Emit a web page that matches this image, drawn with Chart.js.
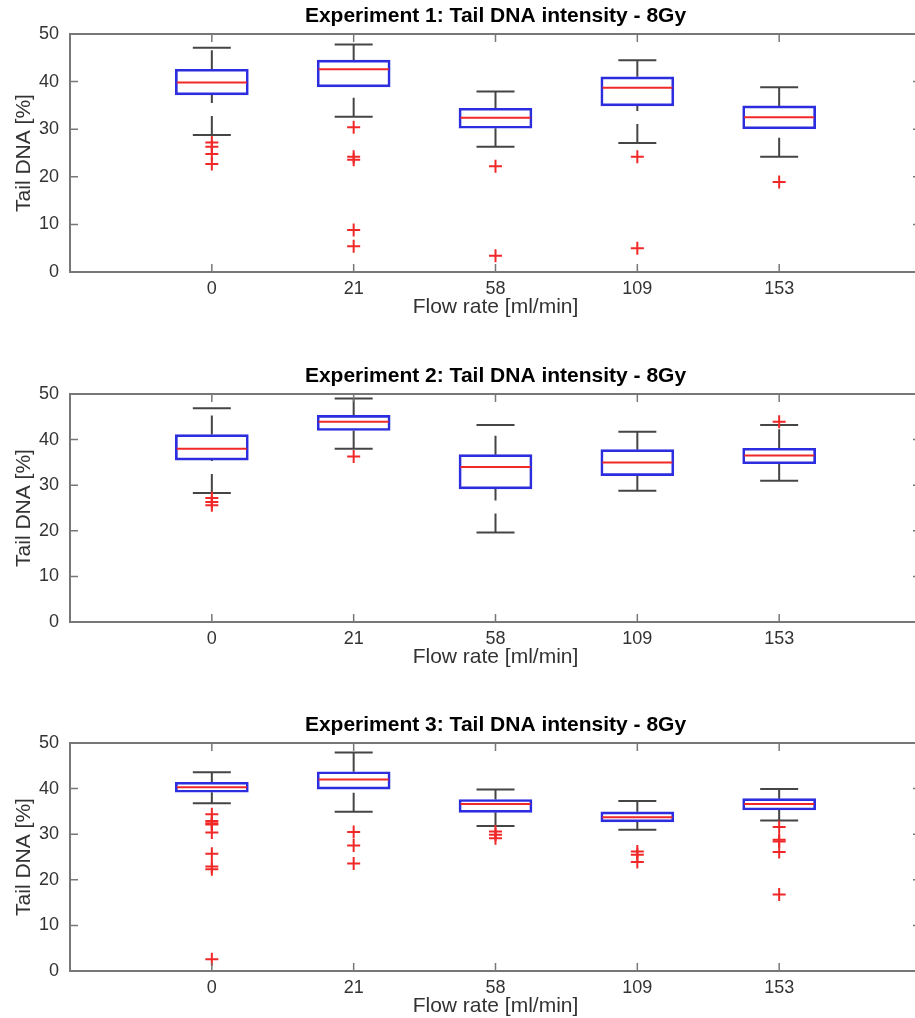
<!DOCTYPE html>
<html>
<head>
<meta charset="utf-8">
<title>Tail DNA intensity - 8Gy</title>
<script src="https://cdn.jsdelivr.net/npm/chart.js@4.4.1/dist/chart.umd.min.js"></script>
<style>
  html, body { margin: 0; padding: 0; background: #fff; overflow: hidden; width: 915px; height: 1018px; }
  .panel { position: absolute; left: 0; width: 930px; }
  .panel canvas { display: block; }
</style>
</head>
<body>
<div class="panel" style="top:0px;height:320px"><canvas id="exp1" width="930" height="320" style="width:930px;height:320px"></canvas></div>
<div class="panel" style="top:360px;height:310px"><canvas id="exp2" width="930" height="310" style="width:930px;height:310px"></canvas></div>
<div class="panel" style="top:709px;height:310px"><canvas id="exp3" width="930" height="310" style="width:930px;height:310px"></canvas></div>
<script>
const flowRates = ['0', '21', '58', '109', '153'];

// Experiment 1
const exp1Upper = [47.1, 47.8, 37.9, 44.5, 38.8];
const exp1Q3 = [42.6, 44.5, 34.4, 41.0, 34.9];
const exp1Median = [39.8, 42.6, 32.4, 38.7, 32.5];
const exp1Q1 = [37.2, 38.9, 30.2, 34.9, 30.1];
const exp1Lower = [28.8, 32.6, 26.3, 27.1, 24.2];
const exp1Outliers = [[27.2, 26.3, 24.8, 22.7], [30.4, 24.2, 23.6, 8.8, 5.4], [22.2, 3.4], [24.2, 5.0], [18.9]];

// Experiment 2
const exp2Upper = [46.9, 49.0, 43.2, 41.7, 43.2];
const exp2Q3 = [41.1, 45.3, 36.7, 37.8, 38.1];
const exp2Median = [38.0, 43.9, 34.0, 35.0, 36.5];
const exp2Q1 = [35.5, 42.0, 29.2, 32.1, 34.7];
const exp2Lower = [28.3, 38.0, 19.6, 28.8, 31.0];
const exp2Outliers = [[27.2, 26.3, 25.6], [36.3], [], [], [43.9]];

// Experiment 3
const exp3Upper = [43.6, 47.9, 39.8, 37.3, 39.9];
const exp3Q3 = [41.4, 43.7, 37.6, 34.9, 37.8];
const exp3Median = [40.3, 42.0, 36.6, 33.7, 36.6];
const exp3Q1 = [39.2, 39.9, 34.8, 32.7, 35.3];
const exp3Lower = [36.8, 34.9, 31.8, 31.0, 33.0];
const exp3Outliers = [[34.4, 32.9, 32.4, 32.1, 30.4, 25.7, 22.9, 22.3, 2.6], [30.5, 27.5, 23.6], [30.6, 29.9, 29.1], [26.2, 25.5, 23.9], [31.6, 28.8, 28.4, 26.1, 16.8]];

Chart.defaults.font.family = '"Liberation Sans", Arial, Helvetica, sans-serif';

const BLUE = '#2d2de0';
const RED = '#f02828';
const WHISKER = '#454545';
const AXIS = '#777';
const TEXT = '#333';

// box frame with inward tick marks on all four sides
const axesFrame = {
  id: 'axesFrame',
  afterDraw(chart) {
    const { ctx, chartArea: a, scales } = chart;
    const len = 8;
    ctx.save();
    ctx.strokeStyle = AXIS;
    ctx.lineWidth = 1.5;
    ctx.beginPath();
    scales.x.ticks.forEach(t => {
      const px = scales.x.getPixelForValue(t.value);
      ctx.moveTo(px, a.bottom); ctx.lineTo(px, a.bottom - len);
      ctx.moveTo(px, a.top); ctx.lineTo(px, a.top + len);
    });
    scales.y.ticks.forEach(t => {
      const py = scales.y.getPixelForValue(t.value);
      ctx.moveTo(a.left, py); ctx.lineTo(a.left + len, py);
      ctx.moveTo(a.right, py); ctx.lineTo(a.right - len, py);
    });
    ctx.stroke();
    ctx.lineWidth = 2;
    ctx.strokeRect(a.left, a.top, a.right - a.left, a.bottom - a.top);
    ctx.restore();
  }
};

function whiskerPoints(q1, q3, lower, upper) {
  const pts = [];
  q1.forEach((v, i) => {
    const x = i + 1;
    pts.push({ x, y: lower[i] }, { x, y: v }, { x, y: null });
    pts.push({ x, y: q3[i] }, { x, y: upper[i] }, { x, y: null });
  });
  return pts;
}

function makePanel(id, title, upper, q3, median, q1, lower, outliers) {
  const outlierPts = [];
  outliers.forEach((list, i) => list.forEach(v => outlierPts.push({ x: i + 1, y: v })));

  const caps = [];
  upper.forEach((v, i) => caps.push({ x: i + 1, y: v }, { x: i + 1, y: lower[i] }));

  new Chart(document.getElementById(id), {
    type: 'bar',
    data: {
      datasets: [
        {
          type: 'scatter',
          label: 'Outliers',
          data: outlierPts,
          pointStyle: 'cross',
          pointRadius: 6.5,
          pointBorderWidth: 2,
          pointBorderColor: RED,
          pointBackgroundColor: RED
        },
        {
          type: 'scatter',
          label: 'Median',
          data: median.map((v, i) => ({ x: i + 1, y: v })),
          pointStyle: 'line',
          pointRadius: 35,
          pointBorderWidth: 2,
          pointBorderColor: RED
        },
        {
          type: 'bar',
          label: 'IQR',
          data: q1.map((v, i) => ({ x: i + 1, y: [v, q3[i]] })),
          backgroundColor: 'rgba(0,0,0,0)',
          borderColor: BLUE,
          borderWidth: 2,
          borderSkipped: false,
          barThickness: 73
        },
        {
          type: 'scatter',
          label: 'Caps',
          data: caps,
          pointStyle: 'line',
          pointRadius: 19,
          pointBorderWidth: 2,
          pointBorderColor: WHISKER
        },
        {
          type: 'line',
          label: 'Whiskers',
          data: whiskerPoints(q1, q3, lower, upper),
          borderColor: WHISKER,
          borderWidth: 2,
          borderDash: [19, 13],
          pointRadius: 0,
          spanGaps: false,
          fill: false
        }
      ]
    },
    options: {
      responsive: false,
      animation: false,
      layout: { autoPadding: false, padding: { right: 9 } },
      plugins: {
        legend: { display: false },
        tooltip: { enabled: false },
        title: {
          display: true,
          text: title,
          color: '#000',
          fullSize: false,
          font: { size: 21, weight: 'bold' },
          padding: { top: 4.1, bottom: 4.7 }
        }
      },
      scales: {
        x: {
          type: 'linear',
          min: 0,
          max: 6,
          offset: false,
          afterBuildTicks: axis => { axis.ticks = flowRates.map((_, i) => ({ value: i + 1 })); },
          afterFit: axis => { axis.height = 48; },
          grid: { display: false, drawTicks: false, offset: false },
          border: { display: false },
          ticks: {
            padding: 6.5,
            color: TEXT,
            font: { size: 18 },
            autoSkip: false,
            maxRotation: 0,
            callback: v => flowRates[v - 1]
          },
          title: {
            display: true,
            text: 'Flow rate [ml/min]',
            color: TEXT,
            font: { size: 21 },
            padding: { top: 0, bottom: 0 }
          }
        },
        y: {
          min: 0,
          max: 50,
          afterFit: axis => { axis.width = 70; },
          grid: { display: false, drawTicks: false },
          border: { display: false },
          ticks: { stepSize: 10, padding: 11, color: TEXT, font: { size: 18 } },
          title: {
            display: true,
            text: 'Tail DNA [%]',
            color: TEXT,
            font: { size: 21 },
            padding: { top: 11.4, bottom: 0 }
          }
        }
      }
    },
    plugins: [axesFrame]
  });
}

makePanel('exp1', 'Experiment 1: Tail DNA intensity - 8Gy', exp1Upper, exp1Q3, exp1Median, exp1Q1, exp1Lower, exp1Outliers);
makePanel('exp2', 'Experiment 2: Tail DNA intensity - 8Gy', exp2Upper, exp2Q3, exp2Median, exp2Q1, exp2Lower, exp2Outliers);
makePanel('exp3', 'Experiment 3: Tail DNA intensity - 8Gy', exp3Upper, exp3Q3, exp3Median, exp3Q1, exp3Lower, exp3Outliers);
</script>
</body>
</html>
